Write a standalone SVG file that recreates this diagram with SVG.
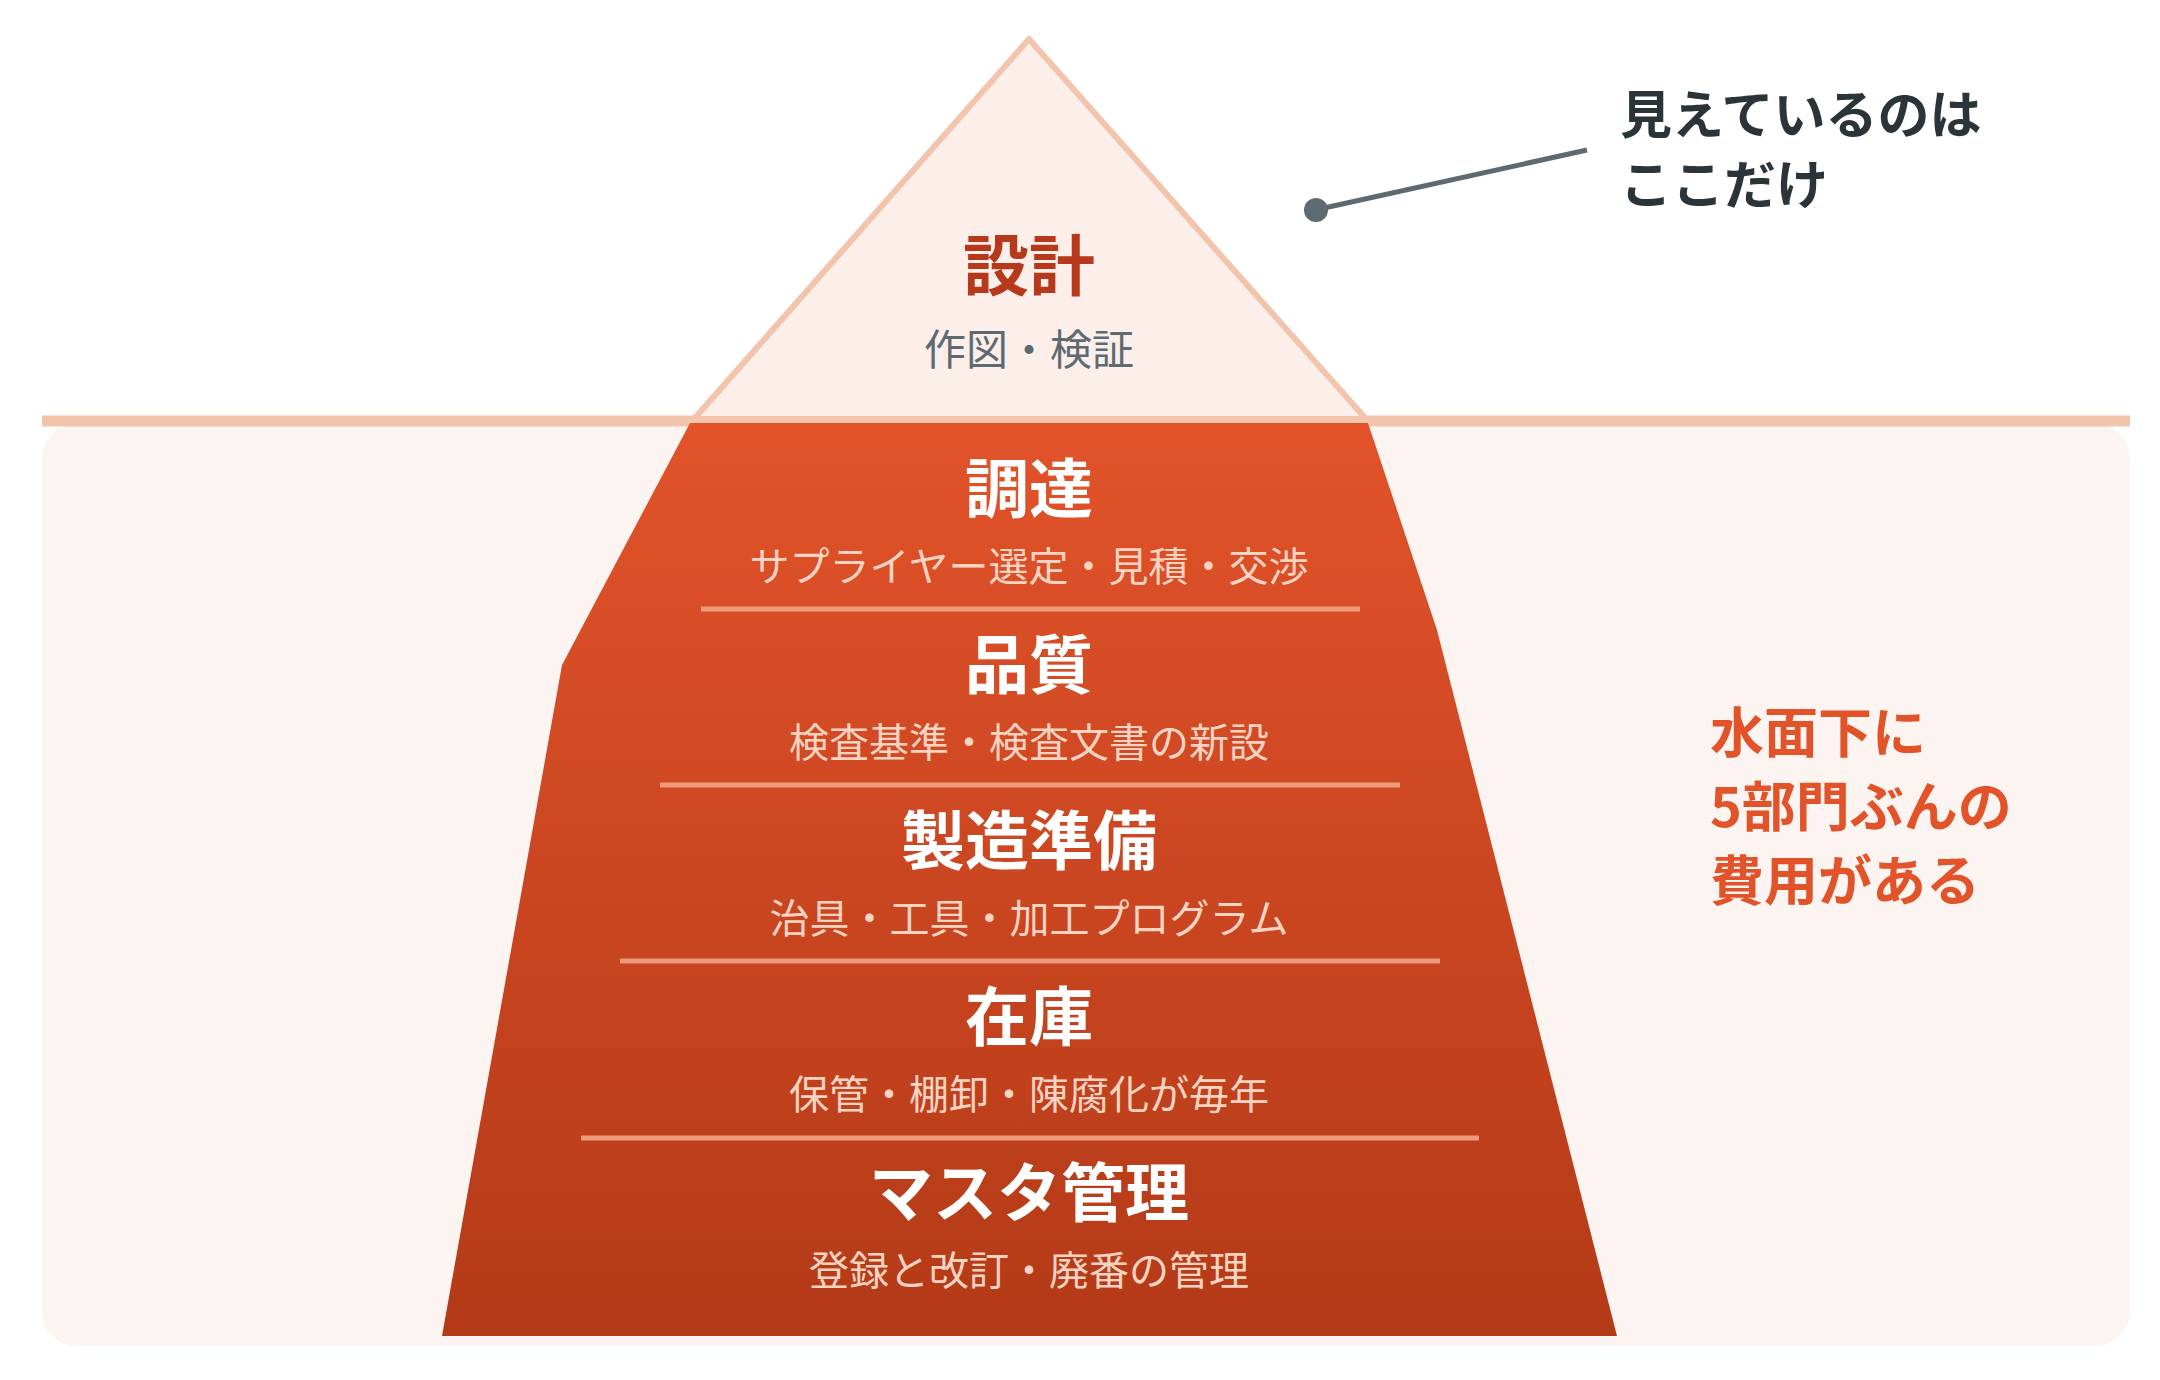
<svg xmlns="http://www.w3.org/2000/svg" width="2160" height="1380" viewBox="0 0 2160 1380">
<defs>
<linearGradient id="ice" x1="0" y1="0" x2="0" y2="1">
<stop offset="0" stop-color="#e2532a"/>
<stop offset="1" stop-color="#b33a17"/>
</linearGradient>
<style>
text{font-family:"Noto Sans CJK JP","Noto Sans",sans-serif;text-anchor:middle}
.t{font-weight:700;font-size:64px;fill:#fff}
.s{font-size:40px;fill:#fbd3c2}
.d{stroke:#ef9a7c;stroke-width:5}
</style>
</defs>
<rect x="42" y="424" width="2088" height="922" rx="34" fill="#fcf4f1"/>
<line x1="42" y1="421" x2="2130" y2="421" stroke="#f2c4ac" stroke-width="11"/>
<g id="tip">
<polygon points="1029,39 694,419 1366,419" fill="#fcefea" stroke="#f2c4ac" stroke-width="6" stroke-linejoin="round"/>
<text x="1029" y="290" style="font-weight:700;font-size:66px;fill:#b5391a">設計</text>
<text x="1029" y="365" style="font-size:42px;fill:#5e6a72">作図・検証</text>
</g>
<g id="berg">
<polygon points="690,423 1368,423 1437,630 1617,1336 442,1336 562,665" fill="url(#ice)"/>
</g>
<g id="connectors">
<line class="d" x1="701" y1="609" x2="1360" y2="609"/>
<line class="d" x1="660" y1="785" x2="1400" y2="785"/>
<line class="d" x1="620" y1="961" x2="1440" y2="961"/>
<line class="d" x1="581" y1="1138" x2="1479" y2="1138"/>
<line x1="1315" y1="210" x2="1587" y2="150" stroke="#5e6a72" stroke-width="5"/>
<circle cx="1316" cy="210" r="12" fill="#5e6a72"/>
</g>
<g id="l1"><text class="t" x="1029" y="512">調達</text><text class="s" x="1029" y="581">サプライヤー選定・見積・交渉</text></g>
<g id="l2"><text class="t" x="1029" y="688">品質</text><text class="s" x="1029" y="757">検査基準・検査文書の新設</text></g>
<g id="l3"><text class="t" x="1029" y="864">製造準備</text><text class="s" x="1029" y="933">治具・工具・加工プログラム</text></g>
<g id="l4"><text class="t" x="1029" y="1040">在庫</text><text class="s" x="1029" y="1109">保管・棚卸・陳腐化が毎年</text></g>
<g id="l5"><text class="t" x="1029" y="1216">マスタ管理</text><text class="s" x="1029" y="1285">登録と改訂・廃番の管理</text></g>
<g id="note1" style="font-weight:700;font-size:52px;fill:#2a3439">
<text x="1620" y="134" style="text-anchor:start">見えているのは</text>
<text x="1620" y="204" style="text-anchor:start">ここだけ</text>
</g>
<g id="note2" style="font-weight:700;font-size:54px;fill:#e2532a">
<text x="1710" y="753" style="text-anchor:start">水面下に</text>
<text x="1710" y="827" style="text-anchor:start">5部門ぶんの</text>
<text x="1710" y="901" style="text-anchor:start">費用がある</text>
</g>
</svg>
